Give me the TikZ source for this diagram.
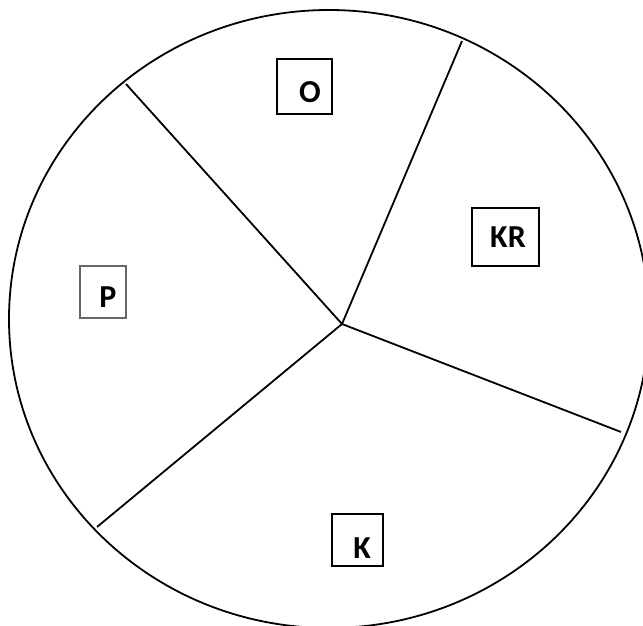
\documentclass[tikz,border=0pt]{standalone}
\usepackage{fontspec}
\setmainfont{Carlito}
\begin{document}
\begin{tikzpicture}[x=1pt,y=-1pt,
  outline/.style={line width=1.8pt,black},
  lbox/.style={draw,line width=2pt,black},
  lbl/.style={font=\bfseries\fontsize{32}{34}\selectfont,inner sep=0pt}]
\clip (0,0) rectangle (643,626);
\fill[white] (0,0) rectangle (643,626);
\draw[outline] (329,319) ellipse [x radius=320, y radius=309];
\coordinate (c) at (342,324);
\coordinate (e1) at (126,84);
\coordinate (e2) at (462,41);
\coordinate (e3) at (621,432);
\coordinate (e4) at (97,527);
\draw[outline] (c) -- (e1);
\draw[outline] (c) -- (e2);
\draw[outline] (c) -- (e3);
\draw[outline] (c) -- (e4);
% boxes
\draw[lbox] (277,59) rectangle (332,114);
\node[lbl] (o) at (310,92) {O};
\draw[lbox] (472,208) rectangle (539,266);
\node[lbl] (kr) at (508,237) {KR};
\draw[line width=1.2pt,black!60] (80,266) rectangle (126,318);
\node[lbl] (p) at (108,297) {P};
\draw[lbox] (332,514) rectangle (383,566);
\node[lbl] (k) at (362,548) {K};
\end{tikzpicture}
\end{document}
